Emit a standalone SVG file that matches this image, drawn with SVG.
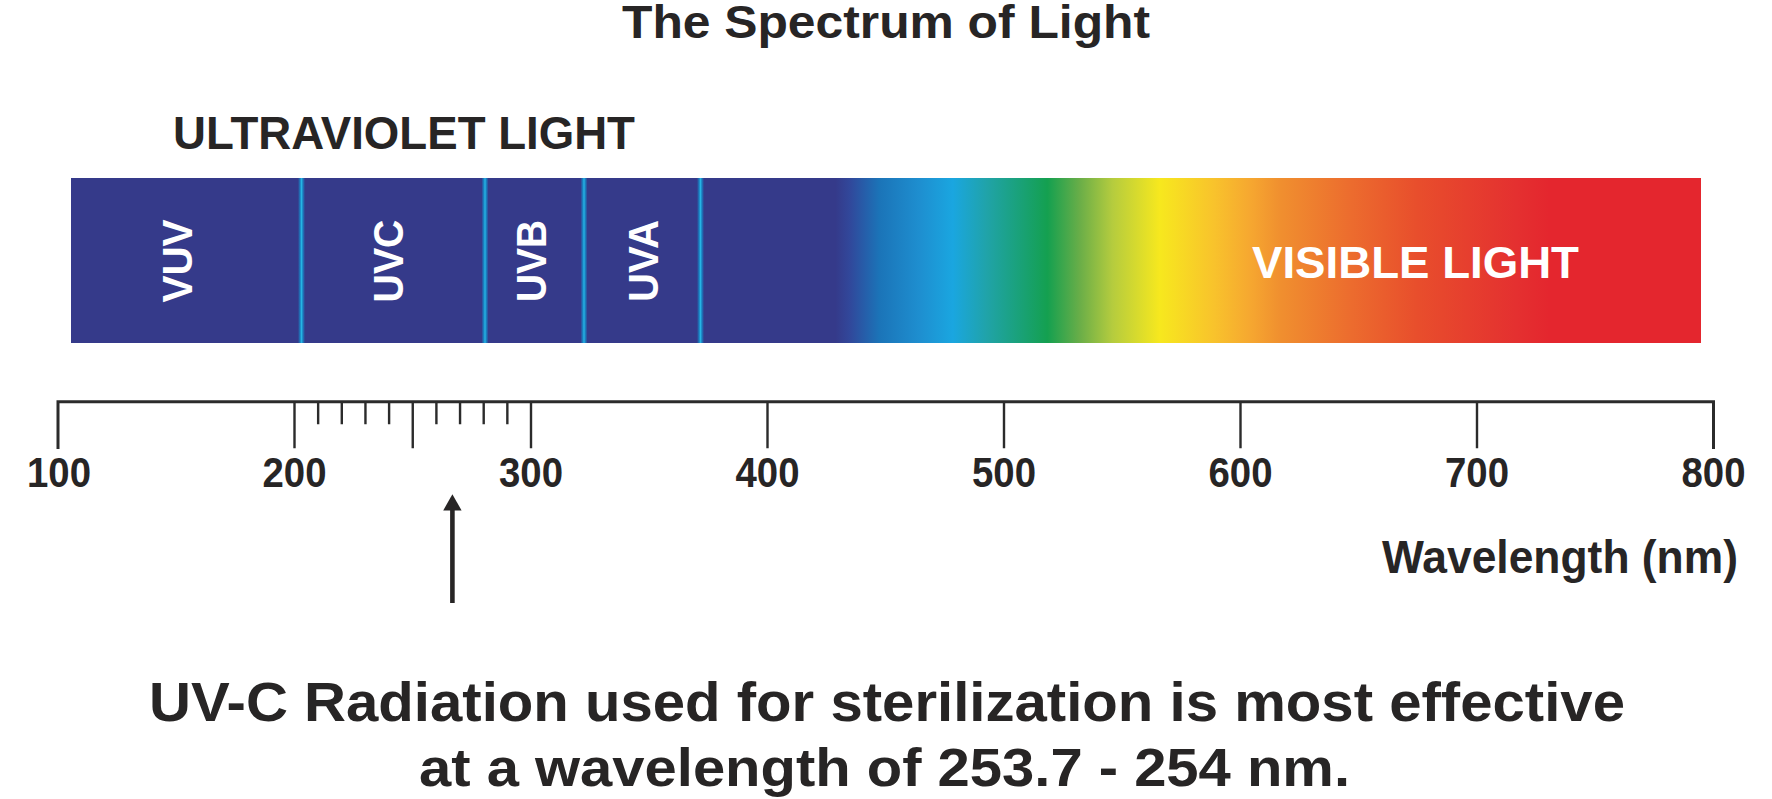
<svg xmlns="http://www.w3.org/2000/svg" width="1772" height="799" viewBox="0 0 1772 799">
  <defs>
    <linearGradient id="spec" x1="71" y1="0" x2="1701" y2="0" gradientUnits="userSpaceOnUse">
      <stop offset="0" stop-color="#353A8A"/>
      <stop offset="0.469" stop-color="#353A8A"/>
      <stop offset="0.478" stop-color="#31489b"/>
      <stop offset="0.496" stop-color="#1b74b8"/>
      <stop offset="0.521" stop-color="#1e8fd0"/>
      <stop offset="0.541" stop-color="#1aa6e0"/>
      <stop offset="0.562" stop-color="#20a3a8"/>
      <stop offset="0.599" stop-color="#14a050"/>
      <stop offset="0.619" stop-color="#6aae48"/>
      <stop offset="0.639" stop-color="#b5cc3e"/>
      <stop offset="0.668" stop-color="#f7e81e"/>
      <stop offset="0.701" stop-color="#f8c32c"/>
      <stop offset="0.723" stop-color="#f6a830"/>
      <stop offset="0.742" stop-color="#f08f2f"/>
      <stop offset="0.785" stop-color="#ec6c2e"/>
      <stop offset="0.826" stop-color="#e84e2c"/>
      <stop offset="0.887" stop-color="#e43030"/>
      <stop offset="0.907" stop-color="#e4262e"/>
      <stop offset="1" stop-color="#e4262e"/>
    </linearGradient>
    <linearGradient id="glow" x1="0" y1="0" x2="1" y2="0">
      <stop offset="0" stop-color="#353A8A"/>
      <stop offset="0.3" stop-color="#1a7fc0"/>
      <stop offset="0.5" stop-color="#26b4e4"/>
      <stop offset="0.7" stop-color="#1a7fc0"/>
      <stop offset="1" stop-color="#353A8A"/>
    </linearGradient>
  </defs>
  <style>
    .t { font-family: "Liberation Sans", Arial, sans-serif; font-weight: bold; fill: #272525; }
    .w { font-family: "Liberation Sans", Arial, sans-serif; font-weight: bold; fill: #ffffff; }
    .num { font-size: 42px; text-anchor: middle; }
    .ax { stroke: #2b2b2b; stroke-width: 3; fill: none; }
    .tk { stroke: #2b2b2b; stroke-width: 2.4; fill: none; }
    .sep { fill: url(#glow); }
  </style>

  <g id="title">
    <text class="t" x="622" y="38" font-size="46" textLength="528" lengthAdjust="spacingAndGlyphs">The Spectrum of Light</text>
  </g>

  <g id="uv-heading">
    <text class="t" x="173" y="149" font-size="46" textLength="462" lengthAdjust="spacingAndGlyphs">ULTRAVIOLET LIGHT</text>
  </g>

  <g id="spectrum-bar">
    <rect x="71" y="178" width="1630" height="165" fill="url(#spec)"/>
    <rect class="sep" x="298" y="178" width="7" height="165"/>
    <rect class="sep" x="481.5" y="178" width="7" height="165"/>
    <rect class="sep" x="580.5" y="178" width="7" height="165"/>
    <rect class="sep" x="697" y="178" width="7" height="165"/>
    <text class="w" font-size="42" text-anchor="middle" transform="translate(191.5,261) rotate(-90)" textLength="83" lengthAdjust="spacingAndGlyphs">VUV</text>
    <text class="w" font-size="42" text-anchor="middle" transform="translate(402.5,261) rotate(-90)" textLength="83" lengthAdjust="spacingAndGlyphs">UVC</text>
    <text class="w" font-size="42" text-anchor="middle" transform="translate(545.5,261) rotate(-90)" textLength="82" lengthAdjust="spacingAndGlyphs">UVB</text>
    <text class="w" font-size="42" text-anchor="middle" transform="translate(658,261) rotate(-90)" textLength="82" lengthAdjust="spacingAndGlyphs">UVA</text>
    <text class="w" x="1252" y="278" font-size="44" textLength="327" lengthAdjust="spacingAndGlyphs">VISIBLE LIGHT</text>
  </g>

  <g id="axis">
    <path class="ax" d="M58,449 V401.7 H1713.5 V449"/>
    <path class="tk" d="M294.5,401.7 V448.3 M531,401.7 V448.3 M767.5,401.7 V448.3 M1004,401.7 V448.3 M1240.5,401.7 V448.3 M1477,401.7 V448.3 M412.75,401.7 V448.3"/>
    <path class="tk" d="M318.15,401.7 V424.3 M341.8,401.7 V424.3 M365.45,401.7 V424.3 M389.1,401.7 V424.3 M436.4,401.7 V424.3 M460.05,401.7 V424.3 M483.7,401.7 V424.3 M507.35,401.7 V424.3"/>
    <text class="t num" x="59" y="487" textLength="64" lengthAdjust="spacingAndGlyphs">100</text>
    <text class="t num" x="294.5" y="487" textLength="64" lengthAdjust="spacingAndGlyphs">200</text>
    <text class="t num" x="531" y="487" textLength="64" lengthAdjust="spacingAndGlyphs">300</text>
    <text class="t num" x="767.5" y="487" textLength="64" lengthAdjust="spacingAndGlyphs">400</text>
    <text class="t num" x="1004" y="487" textLength="64" lengthAdjust="spacingAndGlyphs">500</text>
    <text class="t num" x="1240.5" y="487" textLength="64" lengthAdjust="spacingAndGlyphs">600</text>
    <text class="t num" x="1477" y="487" textLength="64" lengthAdjust="spacingAndGlyphs">700</text>
    <text class="t num" x="1713.5" y="487" textLength="64" lengthAdjust="spacingAndGlyphs">800</text>
    <text class="t" x="1382" y="573" font-size="46" textLength="356" lengthAdjust="spacingAndGlyphs">Wavelength (nm)</text>
  </g>

  <g id="connectors">
    <line x1="452.4" y1="603" x2="452.4" y2="506" stroke="#272525" stroke-width="4.6"/>
    <polygon points="452.4,494.3 461.6,510.5 443.2,510.5" fill="#272525"/>
  </g>

  <g id="caption">
    <text class="t" x="149" y="721" font-size="55" textLength="1476" lengthAdjust="spacingAndGlyphs">UV-C Radiation used for sterilization is most effective</text>
    <text class="t" x="419" y="786" font-size="53" textLength="931" lengthAdjust="spacingAndGlyphs">at a wavelength of 253.7 - 254 nm.</text>
  </g>
</svg>
